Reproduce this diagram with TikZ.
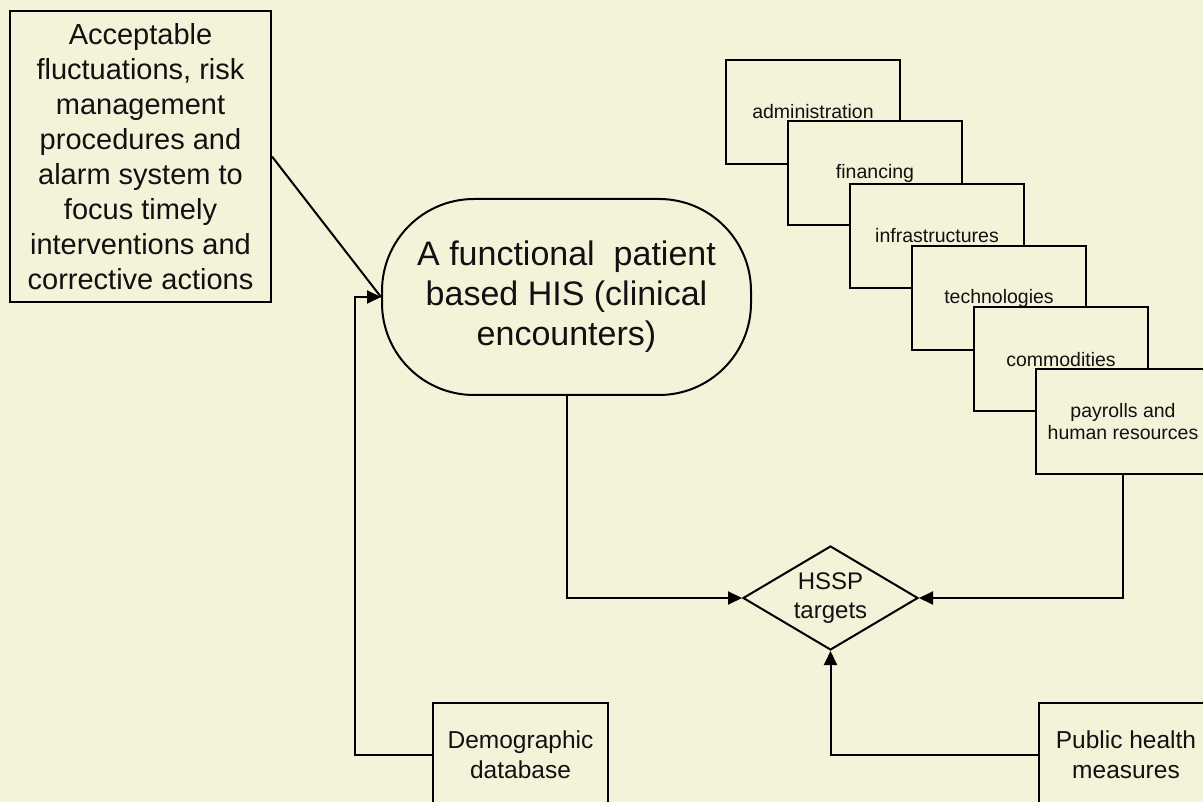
\documentclass[tikz,border=0pt]{standalone}
\usepackage{fontspec}
\setmainfont{Liberation Sans}
\usepackage{tikz}
\usetikzlibrary{arrows.meta,shapes.geometric}
\definecolor{fond}{RGB}{245,242,218}
\definecolor{encre}{RGB}{17,17,17}

\begin{document}
\begin{tikzpicture}[x=1pt,y=-1pt,line width=2pt,
  boite/.style={draw, fill=fond, inner sep=0pt, align=center, text=encre},
  petite/.style={boite, minimum width=174, minimum height=104, font=\fontsize{19.5}{22}\selectfont},
  moyenne/.style={boite, minimum width=175, minimum height=104, font=\fontsize{24.5}{30}\selectfont},
  fleche/.style={-{Triangle[length=14pt,width=13pt]}}]
\useasboundingbox (0,0) rectangle (1203,802);
\fill[fond] (0,0) rectangle (1203,802);
\clip (0,0) rectangle (1203,802);
\node (noeudalarme) [boite, minimum width=261, minimum height=291,
font=\fontsize{29}{35}\selectfont] at (140.5,156.5) {Acceptable\\fluctuations, risk\\management\\procedures and\\alarm system to\\focus timely\\interventions and\\corrective actions};
\node (noeudhis) [boite, rounded corners=92, minimum width=369, minimum height=196,
font=\fontsize{34}{40}\selectfont] at (566.5,297) {A functional\ \ patient\\based HIS (clinical\\encounters)};
% the six stacked boxes
\node (noeudadmin) [petite] at (813,112) {administration};
\node (noeudfin) [petite] at (875,173.5) {financing};
\node (noeudinfra) [petite] at (937,236) {infrastructures};
\node (noeudtech) [petite] at (999,298) {technologies};
\node (noeudcomm) [petite] at (1061,359.5) {commodities};
\node (noeudpaie) [petite] at (1123,421.5) {payrolls and\\human resources};
\node (noeudhssp) [boite, diamond, aspect=1.68, minimum width=175, minimum height=104,
font=\fontsize{24}{29}\selectfont] at (830.5,598) {HSSP\\targets};
\node (noeuddemo) [moyenne] at (520.5,755) {Demographic\\database};
\node (noeudsante) [moyenne, minimum width=174] at (1126,755) {Public health\\measures};
\draw (noeudalarme.east) -- (noeudhis.west);
\draw[fleche] (noeuddemo.west) -| ([xshift=-26pt]noeudhis.west) -- (noeudhis.west);
\draw[fleche] (noeudhis.south) |- (noeudhssp.west);
\draw[fleche] (noeudpaie.south) |- (noeudhssp.east);
\draw[fleche] (noeudsante.west) -| (noeudhssp.south);
\end{tikzpicture}
\end{document}
